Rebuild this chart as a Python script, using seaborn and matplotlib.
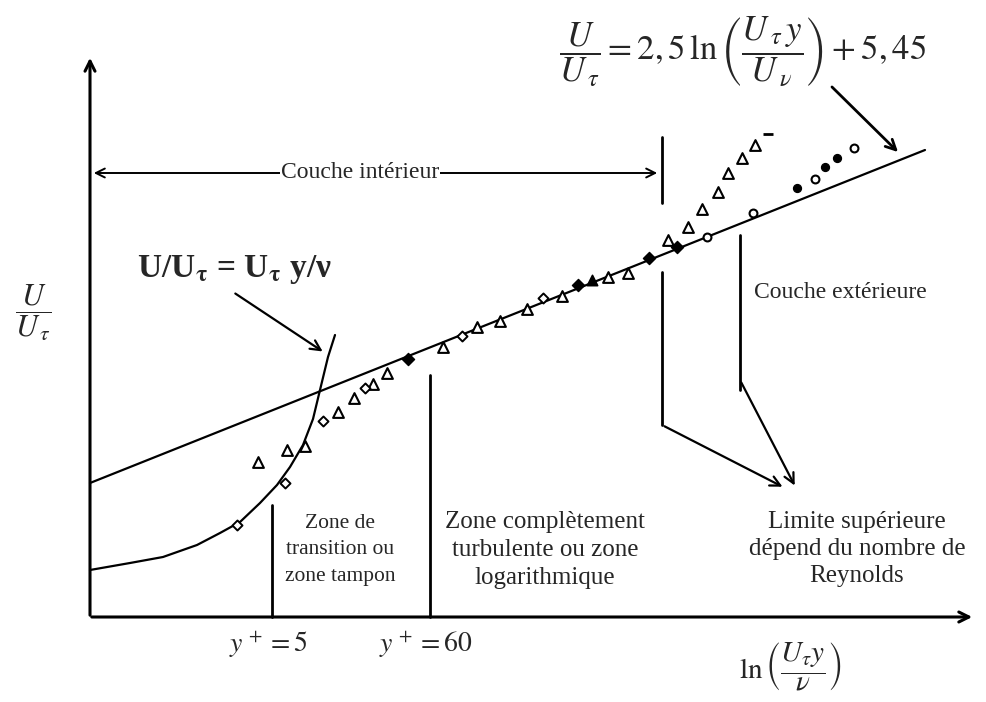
import matplotlib
matplotlib.use("Agg")
import matplotlib.pyplot as plt
import seaborn as sns
import numpy as np
import pandas as pd

sns.set_theme(style="white")
plt.rcParams['font.family'] = ['Liberation Serif', 'DejaVu Serif']
plt.rcParams['mathtext.fontset'] = 'stix'

# ---- data (diagram units: x = distance along ln(y+) axis, y = U/U_tau height) ----
log_x = [0.0, 83.5]
log_y = [13.4, 46.7]

visc_x = [0.0, 4.0, 7.3, 10.7, 13.0, 15.0, 17.0, 18.7, 20.0, 21.3, 22.3, 23.0, 23.8, 24.5]
visc_y = [4.7, 5.4, 6.0, 7.2, 8.4, 9.5, 11.4, 13.2, 15.0, 17.2, 19.8, 22.7, 26.0, 28.2]

tri_x = [16.8, 19.7, 21.5, 24.8, 26.4, 28.3, 29.7, 35.3, 38.7, 41.0, 43.7, 47.2, 51.8,
         53.8, 57.8, 59.8, 61.2, 62.8, 63.8, 65.2, 66.5]
tri_y = [15.5, 16.7, 17.1, 20.5, 21.9, 23.3, 24.4, 27.0, 29.0, 29.6, 30.8, 32.1, 34.0,
         34.4, 37.7, 39.0, 40.8, 42.5, 44.4, 45.9, 47.2]
tri_fill_x = [50.2]
tri_fill_y = [33.7]
dia_x = [14.7, 19.5, 23.3, 27.5, 37.2, 45.3]
dia_y = [9.2, 13.4, 19.6, 22.9, 28.1, 31.9]
dia_fill_x = [31.8, 48.8, 55.9, 58.7]
dia_fill_y = [25.8, 33.2, 35.9, 37.0]
circ_x = [61.7, 66.3, 72.5, 76.4]
circ_y = [38.0, 40.4, 43.8, 46.9]
circ_fill_x = [70.7, 73.5, 74.7]
circ_fill_y = [42.9, 45.0, 45.9]
dash_x = [67.8]
dash_y = [48.3]

yplus_labels = [r'$y^{\,+} = 5$', r'$y^{\,+} = 60$']
yplus_x = [18.2, 34.0]
yplus_top = [11.2, 24.2]

fig = plt.figure(figsize=(9.87, 7.02), dpi=100)
ax = fig.add_axes([0, 0, 1, 1])
ax.set_xlim(-9, 89.7)
ax.set_ylim(-8.5, 61.7)
ax.axis('off')

# axes arrows
ax.annotate('', xy=(0, 56.2), xytext=(0, -0.1),
            arrowprops=dict(arrowstyle='->', lw=2.2, color='black', mutation_scale=18))
ax.annotate('', xy=(88.5, 0), xytext=(-0.1, 0),
            arrowprops=dict(arrowstyle='->', lw=2.2, color='black', mutation_scale=18))

# lines
sns.lineplot(x=log_x, y=log_y, ax=ax, color='black', lw=1.6, sort=False, estimator=None)
sns.lineplot(x=visc_x, y=visc_y, ax=ax, color='black', lw=1.6, sort=False, estimator=None)

# markers
mk = dict(ax=ax, legend=False, zorder=5)
sns.scatterplot(x=tri_x, y=tri_y, marker='^', s=60, facecolor='white', edgecolor='black', linewidth=1.5, **mk)
sns.scatterplot(x=tri_fill_x, y=tri_fill_y, marker='^', s=55, facecolor='black', edgecolor='black', linewidth=1.2, **mk)
sns.scatterplot(x=dia_x, y=dia_y, marker='D', s=26, facecolor='white', edgecolor='black', linewidth=1.4, **mk)
sns.scatterplot(x=dia_fill_x, y=dia_fill_y, marker='D', s=38, facecolor='black', edgecolor='black', linewidth=1.0, **mk)
sns.scatterplot(x=circ_x, y=circ_y, marker='o', s=32, facecolor='white', edgecolor='black', linewidth=1.5, **mk)
sns.scatterplot(x=circ_fill_x, y=circ_fill_y, marker='o', s=32, facecolor='black', edgecolor='black', linewidth=1.0, **mk)
sns.scatterplot(x=dash_x, y=dash_y, marker='_', s=60, color='black', linewidth=2.0, **mk)

# vertical marker lines for y+
for xv, yt, lab in zip(yplus_x, yplus_top, yplus_labels):
    ax.plot([xv, xv], [0, yt], color='black', lw=2.0)
    ax.text(xv - 0.4, -2.8, lab, fontsize=20, ha='center', va='center')

# limit lines
ax.plot([57.2, 57.2], [41.4, 48.0], color='black', lw=2.0)
ax.plot([57.2, 57.2], [19.2, 34.5], color='black', lw=2.0)
ax.plot([65.0, 65.0], [22.7, 38.2], color='black', lw=2.0)
ax.annotate('', xy=(69.5, 12.9), xytext=(57.2, 19.2),
            arrowprops=dict(arrowstyle='->', lw=1.6, color='black', mutation_scale=18))
ax.annotate('', xy=(70.6, 12.9), xytext=(65.0, 23.7),
            arrowprops=dict(arrowstyle='->', lw=1.6, color='black', mutation_scale=18))

# Couche interieur double arrow
ax.annotate('', xy=(0.1, 44.4), xytext=(57.0, 44.4),
            arrowprops=dict(arrowstyle='<->', lw=1.4, color='black', mutation_scale=16))
ax.text(27.0, 44.4, 'Couche intérieur', fontsize=17, ha='center', va='center',
        bbox=dict(facecolor='white', edgecolor='none', pad=0.5))

# equation top
ax.text(65.3, 56.6, r'$\dfrac{U}{U_{\,\tau}} = 2,5\,\ln\left(\dfrac{U_{\,\tau}\,y}{U_{\,\nu}}\right) + 5,45$',
        fontsize=25, ha='center', va='center')
ax.annotate('', xy=(81.0, 46.3), xytext=(74.0, 53.2),
            arrowprops=dict(arrowstyle='->', lw=2.0, color='black', mutation_scale=18))

# viscous law text
ax.text(14.5, 34.7, r'U/U$_{\mathbf{\tau}}$ = U$_{\mathbf{\tau}}$ y/ν', fontsize=24, ha='center',
        va='center', fontweight='bold')
ax.annotate('', xy=(23.5, 26.4), xytext=(14.3, 32.5),
            arrowprops=dict(arrowstyle='->', lw=1.6, color='black', mutation_scale=18))

# region texts
ax.text(25.0, 6.7, 'Zone de\ntransition ou\nzone tampon', fontsize=15.5, ha='center', va='center',
        linespacing=1.55)
ax.text(45.5, 6.7, 'Zone complètement\nturbulente ou zone\nlogarithmique', fontsize=18,
        ha='center', va='center', linespacing=1.38)
ax.text(76.7, 6.8, 'Limite supérieure\ndépend du nombre de\nReynolds', fontsize=18,
        ha='center', va='center', linespacing=1.32)
ax.text(75.0, 32.5, 'Couche extérieure', fontsize=17, ha='center', va='center')

# axis labels
ax.text(70.0, -5.0, r'$\ln\left(\dfrac{U_{\tau}y}{\nu}\right)$', fontsize=21, ha='center', va='center')
ax.text(-5.7, 30.4, r'$\dfrac{U}{U_{\,\tau}}$', fontsize=22, ha='center', va='center')

fig.savefig('out.png', dpi=100)
